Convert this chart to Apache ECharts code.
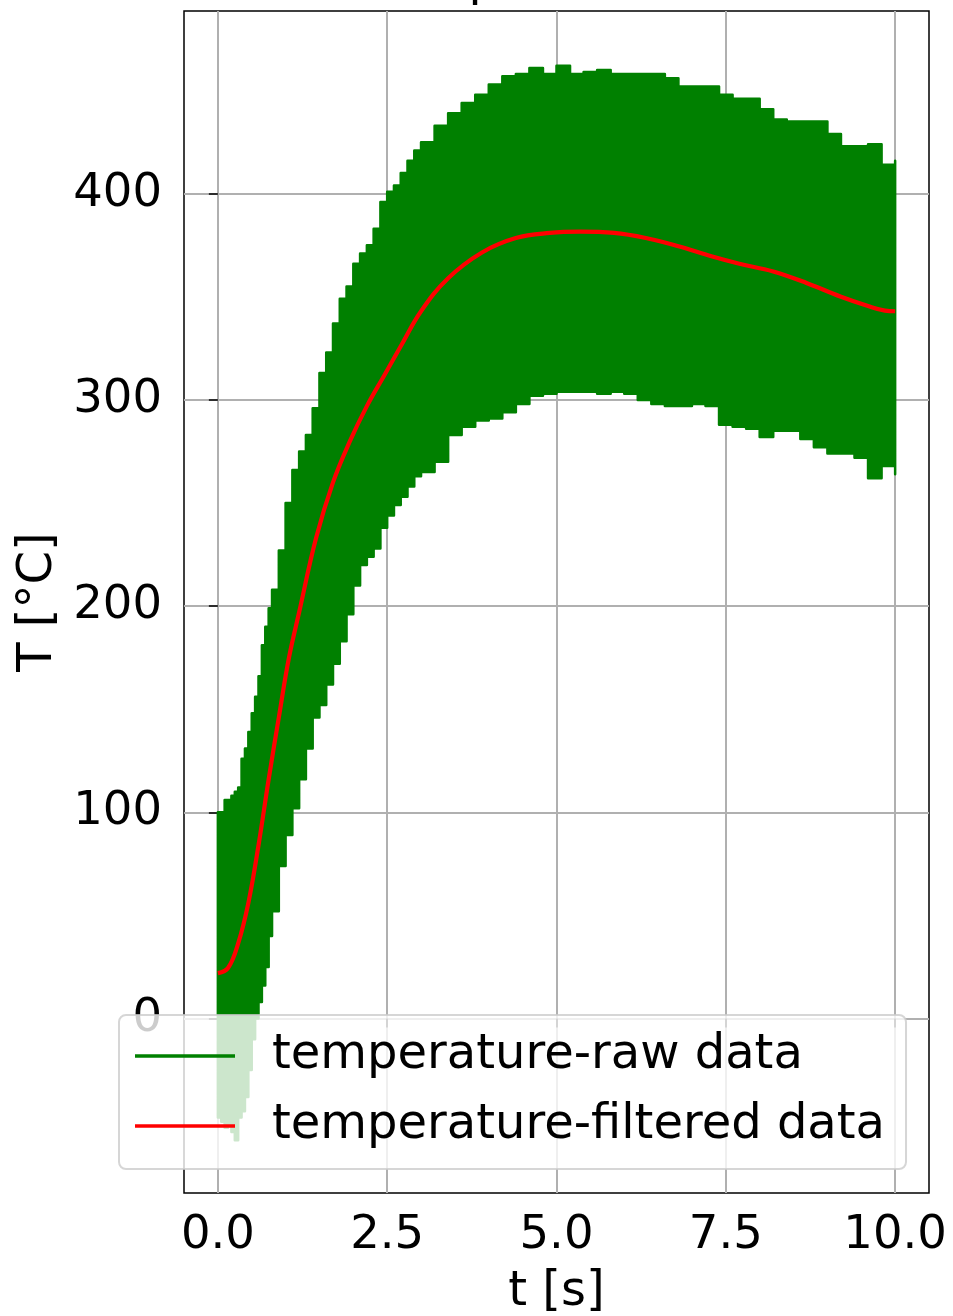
<!DOCTYPE html>
<html><head><meta charset="utf-8">
<script src="https://cdn.jsdelivr.net/npm/echarts@6/dist/echarts.min.js"></script>
<style>html,body{margin:0;padding:0;background:#fff}#c{width:953px;height:1316px}</style>
</head><body><div id="c"></div>
<script>
// time grid for raw-signal envelope (s)
const envT = [0,0.05,0.1,0.15,0.2,0.25,0.3,0.35,0.4,0.45,0.5,0.55,0.6,0.65,0.7,0.75,0.8,
  0.9,1.0,1.1,1.2,1.3,1.4,1.5,1.6,1.7,1.8,1.9,2.0,2.1,2.2,2.3,2.4,2.5,2.6,2.7,2.8,2.9,3.0,
  3.2,3.4,3.6,3.8,4.0,4.2,4.4,4.6,4.8,5.0,5.2,5.4,5.6,5.8,6.0,6.2,6.4,6.6,6.8,7.0,7.2,7.4,7.6,7.8,8.0,8.2,8.4,8.6,8.8,9.0,9.2,9.4,9.6,9.8,10.0];
// raw temperature: upper envelope (°C)
const rawUpper = [100,100,106,106,108,110,112,126,131,139,148,156,166,181,190,199,208,
  227,250,266,275,283,296,313,323,337,349,355,366,371,375,383,396,401,404,410,416,421,425,
  433,439,444,448,453,457,458,461,458,462,458,459,460,458,458,458,458,456,452,452,452,448,446,446,441,436,435,435,435,429,423,423,424,414,416];
// raw temperature: lower envelope (°C)
const rawLower = [-48,-50,-53,-52,-55,-59,-48,-45,-38,-25,-10,0,8,16,25,40,52,
  74,89,102,116,131,146,152,162,172,183,196,210,220,224,228,238,244,249,253,258,263,265,
  270,283,287,290,291,294,298,302,303,304,304,304,303,304,303,300,298,297,297,298,297,288,287,286,282,285,285,281,277,274,274,272,262,268,264];
// filtered temperature
const filtT = [0,0.15,0.3,0.45,0.6,0.75,0.9,1.05,1.2,1.45,1.7,1.95,2.2,2.45,2.7,3.0,3.4,3.9,4.4,4.9,5.35,5.85,6.35,6.8,7.3,7.7,8.2,8.7,9.2,9.6,9.85,10];
const filtVal = [22,24.5,36.5,56,84,116,146,175,197,233,260,280,297,311.5,326,343,359,371.5,378.5,381,381.6,381,378.3,374.5,369.5,366,362.3,356.6,350,345.5,343.3,343];
// axis ticks
const xTicks = [0,2.5,5,7.5,10];
const yTicks = [0,100,200,300,400];
const seriesNames = ['temperature-raw data','temperature-filtered data'];

const FONT = 'DejaVu Sans';
const GREEN = '#008000';
const chart = echarts.init(document.getElementById('c'), null, {renderer:'canvas'});
const rawData = envT.map((t,i)=>[t, rawLower[i], rawUpper[i]]);
const filtData = filtT.map((t,i)=>[t, filtVal[i]]);

// band between the envelopes, drawn as a step outline (like a dense sampled signal)
function renderBand(params, api){
  if (params.dataIndex !== 0) return null;
  const n = envT.length, pts = [];
  pts.push(api.coord([envT[0], rawUpper[0]]));
  for (let i = 1; i < n; i++) {
    pts.push(api.coord([envT[i], rawUpper[i-1]]));
    pts.push(api.coord([envT[i], rawUpper[i]]));
  }
  pts.push(api.coord([envT[n-1], rawLower[n-1]]));
  for (let i = n - 1; i > 0; i--) {
    pts.push(api.coord([envT[i], rawLower[i-1]]));
    pts.push(api.coord([envT[i-1], rawLower[i-1]]));
  }
  return {type:'polygon', shape:{points:pts},
    style:{fill:GREEN, stroke:GREEN, lineWidth:2.5, lineJoin:'round'}};
}

chart.setOption({
  animation:false,
  backgroundColor:'#fff',
  grid:{left:184,right:24,top:11,bottom:123,outerBoundsMode:'none',containLabel:false,show:true,borderColor:'#000',borderWidth:1.5,backgroundColor:'transparent'},
  graphic:[{type:'text',x:371,y:7,style:{text:'Temperature',font:'48px "DejaVu Sans"',fill:'#000',verticalAlign:'bottom'}}],
  xAxis:{type:'value',min:-0.5,max:10.5,
    axisLine:{show:false},
    axisTick:{show:true,customValues:xTicks,length:9,lineStyle:{color:'#000',width:1.5}},
    axisLabel:{customValues:xTicks,formatter:v=>v.toFixed(1),fontSize:46.5,fontFamily:FONT,color:'#000',margin:19},
    splitLine:{show:true,lineStyle:{color:'#b0b0b0',width:2}},
    name:'t [s]',nameLocation:'middle',nameGap:76,nameTextStyle:{fontSize:48,fontFamily:FONT,color:'#000'}},
  yAxis:{type:'value',min:-84.6,max:488.6,
    axisLine:{show:false},
    axisTick:{show:true,customValues:yTicks,length:9,lineStyle:{color:'#000',width:1.5}},
    axisLabel:{customValues:yTicks,fontSize:46.5,fontFamily:FONT,color:'#000',margin:22},
    splitLine:{show:true,lineStyle:{color:'#b0b0b0',width:2}},
    name:'T [°C]',nameLocation:'middle',nameGap:120,nameTextStyle:{fontSize:48,fontFamily:FONT,color:'#000'}},
  legend:{left:119,top:1015,orient:'vertical',selectedMode:false,
    backgroundColor:'rgba(255,255,255,0.8)',borderColor:'rgba(204,204,204,0.8)',borderWidth:2,borderRadius:7,
    padding:[16,21,18,16],itemGap:20,itemWidth:100,itemHeight:3.5,
    textStyle:{fontSize:48,fontFamily:FONT,color:'#000',lineHeight:50,padding:[0,0,0,32]},
    data:[{name:seriesNames[0],icon:'rect'},{name:seriesNames[1],icon:'rect'}]},
  series:[
    {type:'custom',name:seriesNames[0],data:rawData,encode:{x:0,y:[1,2]},renderItem:renderBand,
      silent:true,itemStyle:{color:GREEN},z:2},
    {type:'line',name:seriesNames[1],data:filtData,smooth:0.4,symbol:'none',silent:true,
      lineStyle:{color:'#ff0000',width:4.2},itemStyle:{color:'#ff0000'},z:3}
  ]
});
</script></body></html>
